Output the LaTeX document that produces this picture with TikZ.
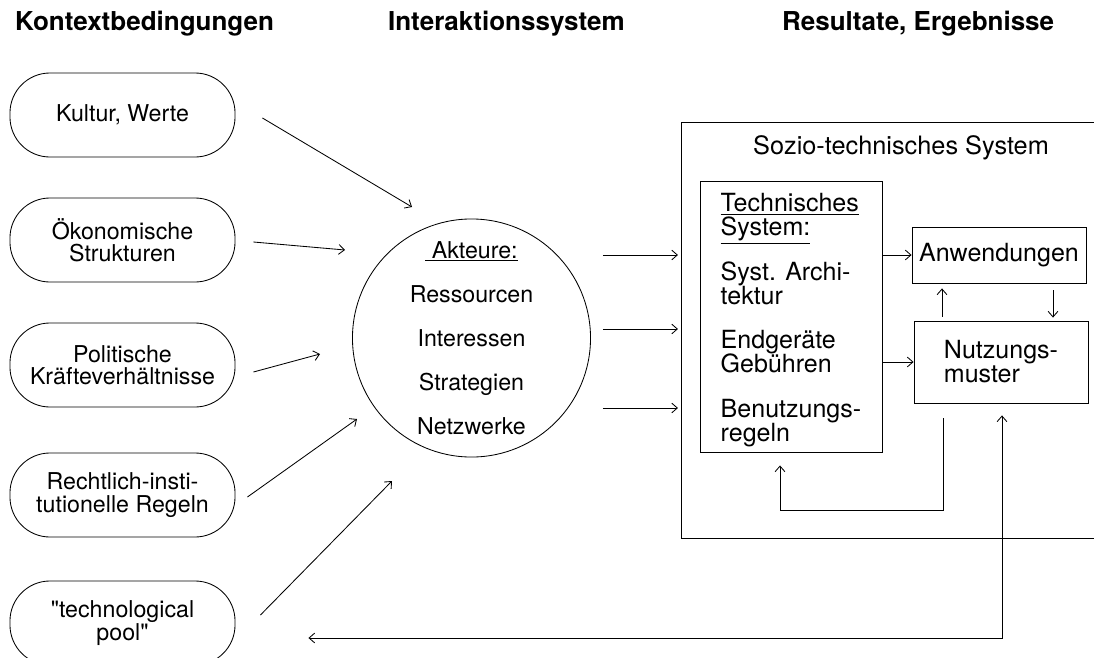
\documentclass[tikz,border=0pt]{standalone}
\usepackage{fontspec}
\setmainfont{TeX Gyre Heros}
\usetikzlibrary{arrows.meta, calc, positioning}
\newcommand{\engzeilen}{\setlength{\lineskiplimit}{-20pt}}

\begin{document}
\begin{tikzpicture}[x=0.025cm, y=-0.025cm, line width=0.6pt,
	>={Straight Barb[length=4pt,width=7pt]},
	kopf/.style={anchor=west, font=\fontsize{18.5}{20}\selectfont\bfseries},
	kontext/.style={draw, rounded corners=1cm, minimum width=5.625cm, minimum height=2.1cm, align=center,
		font=\fontsize{16.5}{15.8}\selectfont\engzeilen},
	kasten/.style={draw, inner sep=0pt, align=left, font=\fontsize{17.8}{17}\selectfont\engzeilen}]

	\useasboundingbox (0,0) rectangle (1094,658);

	\node[kopf] (kopf1) at (10,24) {Kontextbedingungen};
	\node[kopf] (kopf2) at (383,24) {Interaktionssystem};
	\node[kopf] (kopf3) at (777,24) {Resultate, Ergebnisse};

	\node[kontext] (kultur) at (122.5,115) {Kultur, Werte};
	\node[kontext] (oekonomie) at (122.5,240) {Ökonomische\\Strukturen};
	\node[kontext] (politik) at (122.5,365) {Politische\\Kräfteverhältnisse};
	\node[kontext] (recht) at (122.5,495) {Rechtlich-insti-\\tutionelle Regeln};
	\node[kontext] (techpool) at (122.5,623) {\textquotedbl technological\\pool\textquotedbl};

	\node[draw, circle, minimum size=5.95cm, inner sep=0pt, align=center, font=\fontsize{16.5}{31.3}\selectfont] (akteure) at (471.5,338)
		{\underline{\ Akteure:}\\Ressourcen\\Interessen\\Strategien\\Netzwerke};

	\node[draw, inner sep=0pt, minimum width=10.975cm, minimum height=10.4cm] (sozio) at (900.5,330) {};
	\node[font=\fontsize{18}{15.3}\selectfont] (soziotitel) at (901,148) {Sozio-technisches System};

	\node[kasten, minimum width=4.55cm, minimum height=6.775cm] (techsys) at (791,316.5)
		{\rule{0pt}{18pt}\underline{Technisches}\\\underline{System:}\\[0.52cm]
		 Syst. Archi-\\tektur\\[0.52cm]
		 Endgeräte\\Gebühren\\[0.52cm]
		 Benutzungs-\\regeln};
	\node[kasten, minimum width=4.35cm, minimum height=1.4cm] (anwendungen) at (999,255) {Anwendungen};
	\node[kasten, minimum width=4.35cm, minimum height=2.05cm] (nutzung) at (1001,362) {Nutzungs-\\muster};

	\draw[->] ($(kultur.east)+(27,3)$) -- ($(akteure.center)+(-59.5,-131)$);
	\draw[->] ($(oekonomie.east)+(18,2)$) -- ($(akteure.center)+(-126.5,-88)$);
	\draw[->] ($(politik.east)+(18,7)$) -- ($(akteure.center)+(-151.5,16)$);
	\draw[->] ($(recht.east)+(12,2)$) -- ($(akteure.center)+(-114.5,81)$);
	\draw[->] ($(techpool.east)+(25,-8)$) -- ($(akteure.center)+(-79.5,143)$);

	\draw[->] ($(akteure.east)+(12,-83)$) -- ++(75,0);
	\draw[->] ($(akteure.east)+(12,-9)$) -- ++(75,0);
	\draw[->] ($(akteure.east)+(12,70)$) -- ++(75,0);

	\draw[->] (techsys.east |- anwendungen.west) -- (anwendungen.west);
	\draw[->] (techsys.east |- nutzung.west) -- (nutzung.west);
	\draw[->] ($(nutzung.north)+(-59,-4)$) -- ($(anwendungen.south)+(-57,5)$);
	\draw[->] ($(anwendungen.south)+(54,7)$) -- ($(nutzung.north)+(52,-3)$);
	\draw[->] ($(nutzung.south)+(-58,15)$) -- ++(0,92) -| ($(techsys.south)+(-11,13)$);
	\draw[<->] ($(techpool.east)+(73,15)$) -| ($(nutzung.south)+(1,12)$);
\end{tikzpicture}
\end{document}
